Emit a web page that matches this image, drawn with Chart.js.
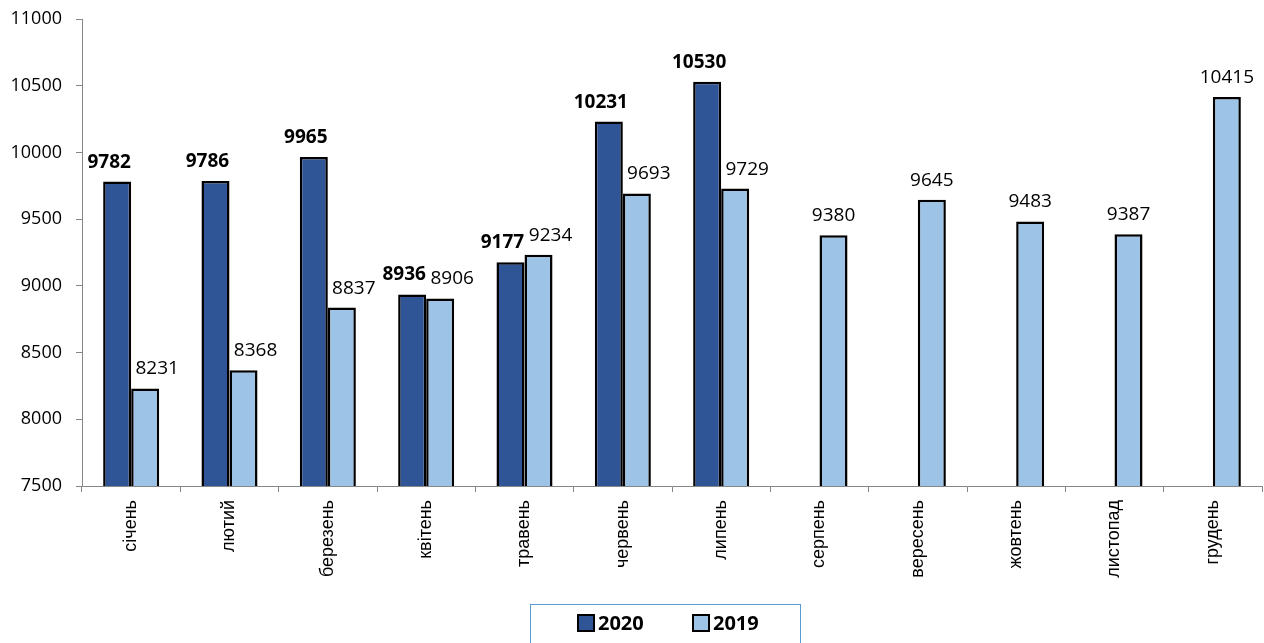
<!DOCTYPE html>
<html>
<head>
<meta charset="utf-8">
<script src="https://cdn.jsdelivr.net/npm/chart.js@4"></script>
<style>
  html, body { margin: 0; padding: 0; background: #fff; }
  #wrap { width: 1264px; height: 643px; position: relative; }
</style>
</head>
<body>
<div id="wrap"><canvas id="chart"></canvas></div>
<script>
// months (uk)
const months = ['січень', 'лютий', 'березень', 'квітень', 'травень', 'червень',
                'липень', 'серпень', 'вересень', 'жовтень', 'листопад', 'грудень'];

// series values
const values2020 = [9782, 9786, 9965, 8936, 9177, 10231, 10530, null, null, null, null, null];
const values2019 = [8231, 8368, 8837, 8906, 9234, 9693, 9729, 9380, 9645, 9483, 9387, 10415];

const seriesNames = ['2020', '2019'];
const yTicks = [7500, 8000, 8500, 9000, 9500, 10000, 10500, 11000];

const NUM_FONT = '"Open Sans", "DejaVu Sans", sans-serif';

// value labels above bars, Excel-like nudges
const barLabels = {
    id: 'barLabels',
    afterDatasetsDraw(chart) {
        const ctx = chart.ctx;
        ctx.save();
        ctx.fillStyle = '#000';
        ctx.textAlign = 'center';
        ctx.textBaseline = 'alphabetic';
        chart.data.datasets.forEach((ds, di) => {
            const meta = chart.getDatasetMeta(di);
            meta.data.forEach((bar, i) => {
                const v = ds.data[i];
                if (v === null || v === undefined) return;
                const other = chart.data.datasets[1 - di].data[i];
                let dx = 0;
                if (di === 0) dx = -8;
                else if (other !== null && other !== undefined) dx = 12;
                ctx.font = (di === 0 ? 'bold ' : '') + '19px ' + NUM_FONT;
                ctx.fillText(String(v), bar.x + dx, bar.y - 14);
            });
        });
        ctx.restore();
    }
};

// boxed legend below the axis labels
const boxLegend = {
    id: 'boxLegend',
    afterDraw(chart) {
        const ctx = chart.ctx;
        const a = chart.chartArea;
        const cx = (a.left + a.right) / 2 - 7;
        const boxW = 270, top = 604;
        ctx.save();
        ctx.strokeStyle = '#5B9BD5';
        ctx.lineWidth = 1;
        ctx.strokeRect(Math.round(cx - boxW / 2) + 0.5, top + 0.5, boxW, 50);

        ctx.font = 'bold 20px ' + NUM_FONT;
        ctx.textBaseline = 'middle';
        ctx.textAlign = 'left';
        const starts = [cx - 87, cx + 28];
        chart.data.datasets.forEach((ds, di) => {
            const x = starts[di];
            const y = 623;
            ctx.fillStyle = ds.backgroundColor;
            ctx.fillRect(x, y - 8, 16, 16);
            ctx.strokeStyle = '#000';
            ctx.lineWidth = 2;
            ctx.strokeRect(x, y - 8, 16, 16);
            ctx.fillStyle = '#000';
            ctx.fillText(ds.label, x + 20, y + 1);
        });
        ctx.restore();
    }
};

new Chart(document.getElementById('chart'), {
    type: 'bar',
    data: {
        labels: months,
        datasets: [
            {
                label: seriesNames[0],
                data: values2020,
                backgroundColor: '#2F5597',
                borderColor: '#000',
                borderWidth: 2.5,
                categoryPercentage: 0.57,
                barPercentage: 1
            },
            {
                label: seriesNames[1],
                data: values2019,
                backgroundColor: '#9DC3E6',
                borderColor: '#000',
                borderWidth: 2.5,
                categoryPercentage: 0.57,
                barPercentage: 1
            }
        ]
    },
    options: {
        responsive: true,
        maintainAspectRatio: false,
        animation: false,
        layout: { padding: { top: 19, right: 2, left: 0, bottom: 0 } },
        plugins: {
            legend: { display: false },
            tooltip: { enabled: false }
        },
        scales: {
            x: {
                afterFit(scale) { scale.height = 157; },
                grid: {
                    display: true,
                    drawOnChartArea: false,
                    drawTicks: true,
                    tickLength: 6,
                    color: '#868686',
                    offset: true
                },
                border: { color: '#868686', width: 1 },
                ticks: {
                    color: '#000',
                    minRotation: 90,
                    maxRotation: 90,
                    padding: 8,
                    autoSkip: false,
                    font: { family: '"Liberation Sans", Arial, sans-serif', size: 18 }
                }
            },
            y: {
                min: yTicks[0],
                max: yTicks[yTicks.length - 1],
                afterFit(scale) {
                    scale.width = 82;
                    scale.paddingTop = 0;
                    scale.paddingBottom = 0;
                },
                afterBuildTicks(scale) { scale.ticks = yTicks.map(v => ({ value: v })); },
                grid: {
                    display: true,
                    drawOnChartArea: false,
                    drawTicks: true,
                    tickLength: 6,
                    color: '#868686'
                },
                border: { color: '#868686', width: 1 },
                ticks: {
                    color: '#000',
                    padding: 14,
                    font: { family: NUM_FONT, size: 18 },
                    callback: v => String(v)
                }
            }
        }
    },
    plugins: [barLabels, boxLegend]
});
</script>
</body>
</html>
